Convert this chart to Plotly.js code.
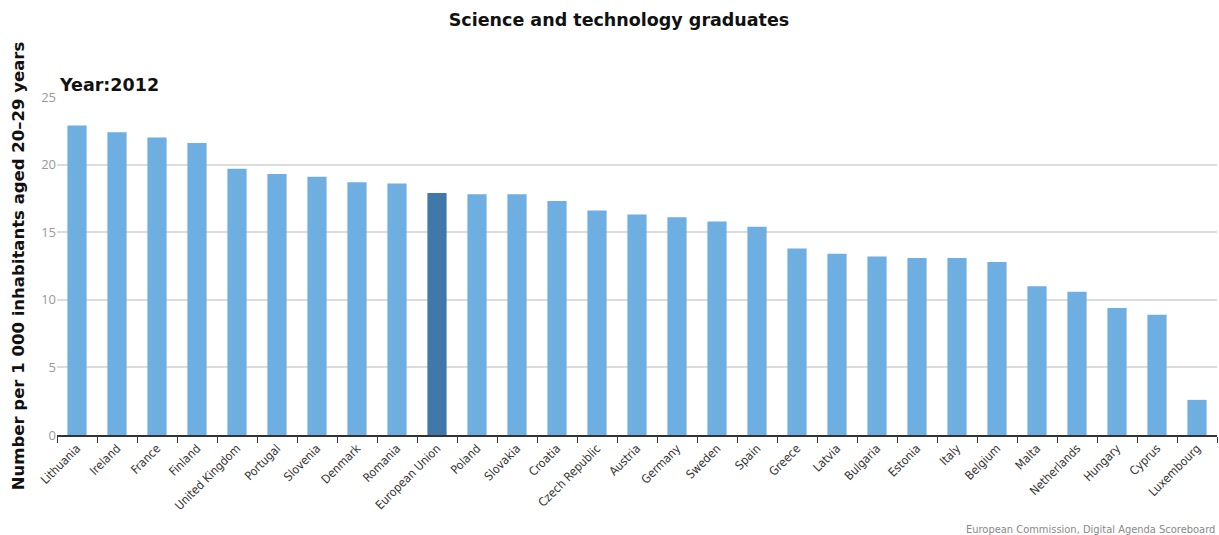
<!DOCTYPE html>
<html>
<head>
<meta charset="utf-8">
<script src="https://cdn.plot.ly/plotly-3.0.1.min.js"></script>
<style>html,body{margin:0;padding:0;background:#fff;}#chart{width:1219px;height:535px;}</style>
</head>
<body>
<div id="chart"></div>
<script>
const countries = ["Lithuania","Ireland","France","Finland","United Kingdom","Portugal","Slovenia","Denmark","Romania","European Union","Poland","Slovakia","Croatia","Czech Republic","Austria","Germany","Sweden","Spain","Greece","Latvia","Bulgaria","Estonia","Italy","Belgium","Malta","Netherlands","Hungary","Cyprus","Luxembourg"];
const values = [22.9,22.4,22.0,21.6,19.7,19.3,19.1,18.7,18.6,17.9,17.8,17.8,17.3,16.6,16.3,16.1,15.8,15.4,13.8,13.4,13.2,13.1,13.1,12.8,11.0,10.6,9.4,8.9,2.6];
const highlight = "European Union";
const yTicks = [0,5,10,15,20,25];

const colors = countries.map(c => c === highlight ? "#3F78A9" : "#6FAEE0");

const trace = {
  type: "bar",
  x: countries,
  y: values,
  marker: {color: colors},
  hoverinfo: "x+y"
};

const layout = {
  width: 1219, height: 535,
  margin: {l: 57, r: 2, t: 97, b: 100},
  paper_bgcolor: "#fff", plot_bgcolor: "#fff",
  bargap: 0.52,
  showlegend: false,
  title: {
    text: "<b>Science and technology graduates</b>",
    font: {family: "DejaVu Sans", size: 17.5, color: "#111"},
    x: 0.4845, xanchor: "center", xref: "paper",
    y: 1 - 20/535, yanchor: "middle", yref: "container"
  },
  xaxis: {
    type: "category",
    tickangle: -45,
    tickfont: {family: "DejaVu Sans Condensed, DejaVu Sans", size: 12, color: "#333"},
    ticks: "outside", tickson: "boundaries", ticklen: 6, tickcolor: "#333", tickwidth: 1,
    showline: true, linecolor: "#333", linewidth: 1.5,
    showgrid: false, automargin: false
  },
  yaxis: {
    range: [0, 25],
    tickvals: yTicks,
    tickfont: {family: "Open Sans", size: 13, color: "#999"},
    showgrid: true, gridcolor: "#dcdcdc", gridwidth: 1.5,
    zeroline: false, showline: false,
    ticks: "", automargin: false,
    title: {
      text: "<b>Number per 1 000 inhabitants aged 20–29 years</b>",
      font: {family: "DejaVu Sans", size: 16.5, color: "#111"},
      standoff: 12
    }
  },
  annotations: [
    {text: "<b>Year:2012</b>", xref: "paper", yref: "paper", x: 0, y: 1 + 12/338, xanchor: "left", yanchor: "middle",
     showarrow: false, font: {family: "DejaVu Sans", size: 17.5, color: "#111"}},
    {text: "European Commission, Digital Agenda Scoreboard", xref: "paper", yref: "paper", x: 1, y: -94/338,
     xanchor: "right", yanchor: "middle", showarrow: false,
     font: {family: "DejaVu Sans Condensed, DejaVu Sans", size: 11, color: "#888"}}
  ]
};

Plotly.newPlot("chart", [trace], layout, {displayModeBar: false, staticPlot: false});
</script>
</body>
</html>
